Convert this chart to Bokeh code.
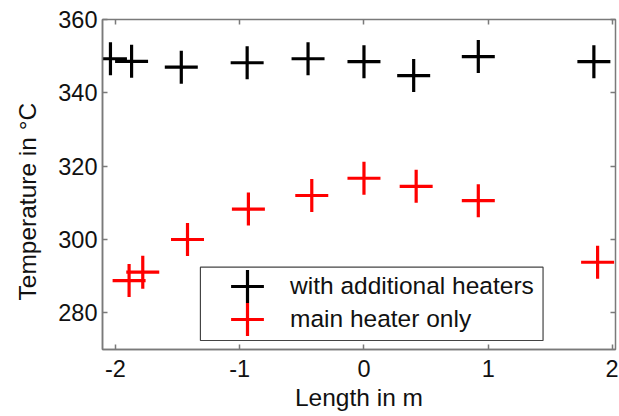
from bokeh.plotting import figure
from bokeh.models import (Range1d, FixedTicker, LinearAxis, Legend, LegendItem,
                          CustomJSTickFormatter, BoxAnnotation, Title)
from bokeh.embed import file_html
from bokeh.resources import INLINE

# Data
length_with = [-2.04, -1.87, -1.47, -0.94, -0.45, 0.00, 0.40, 0.92, 1.85]
temp_with = [349.3, 348.6, 347.0, 348.2, 349.3, 348.5, 344.7, 349.9, 348.5]

length_main = [-1.89, -1.78, -1.42, -0.93, -0.42, 0.00, 0.42, 0.92, 1.88]
temp_main = [288.8, 291.1, 300.0, 308.3, 312.0, 316.7, 314.5, 310.6, 293.8]

x_ticks = [-2, -1, 0, 1, 2]
y_ticks = [280, 300, 320, 340, 360]

label_with = "with additional heaters"
label_main = "main heater only"
x_label = "Length in m"
y_label = "Temperature in °C"

FONT = "Liberation Sans"
AX = "#7a7a7a"
TXT = "#111111"

X0, X1 = -2.104, 2.024
Y0, Y1 = 270, 360

p = figure(width=618, height=416, output_backend="svg", toolbar_location=None,
           x_range=Range1d(X0, X1), y_range=Range1d(Y0, Y1),
           min_border_left=100, min_border_right=3, min_border_top=19, min_border_bottom=67)
p.xgrid.visible = False
p.ygrid.visible = False
p.outline_line_color = AX
p.outline_line_width = 1.5
p.background_fill_color = "white"
p.border_fill_color = "white"

r_with = p.scatter(length_with, temp_with, marker="cross", size=33, line_width=3.2,
                   line_color="#000000")
r_main = p.scatter(length_main, temp_main, marker="cross", size=33, line_width=3.2,
                   line_color="#ff0000")

for ax in (p.xaxis[0], p.yaxis[0]):
    ax.axis_line_color = AX
    ax.axis_line_width = 1.5
    ax.major_tick_line_color = AX
    ax.major_tick_line_width = 1.5
    ax.major_tick_in = 5
    ax.major_tick_out = 0
    ax.minor_tick_line_color = None
    ax.major_label_text_font = FONT
    ax.major_label_text_font_size = "23.5px"
    ax.major_label_text_color = TXT
    ax.axis_label_text_font = FONT
    ax.axis_label_text_font_size = "24.5px"
    ax.axis_label_text_color = TXT
    ax.axis_label_text_font_style = "normal"

p.xaxis.ticker = FixedTicker(ticks=x_ticks)
p.yaxis.ticker = FixedTicker(ticks=y_ticks)
p.xaxis.major_label_overrides = {t: str(t) for t in x_ticks}
p.xaxis.axis_label = x_label
p.xaxis.major_label_standoff = 10
p.yaxis.major_label_standoff = 5
p.xaxis.axis_label_standoff = 4

# y-axis title placed like the reference (slightly below the frame centre)
p.add_layout(Title(text=y_label, align="left", offset=49, vertical_align="top",
                   standoff=26, text_font=FONT, text_font_size="24.5px",
                   text_font_style="normal", text_color=TXT), "left")

blank = CustomJSTickFormatter(code="return ''")
top = LinearAxis(ticker=FixedTicker(ticks=x_ticks), formatter=blank,
                 axis_line_color=None, major_tick_line_color=AX, major_tick_line_width=1.5,
                 major_tick_in=5, major_tick_out=0, minor_tick_line_color=None,
                 major_label_text_font_size="1px")
right = LinearAxis(ticker=FixedTicker(ticks=y_ticks), formatter=blank,
                   axis_line_color=None, major_tick_line_color=AX, major_tick_line_width=1.5,
                   major_tick_in=5, major_tick_out=0, minor_tick_line_color=None,
                   major_label_text_font_size="1px")
p.add_layout(top, "above")
p.add_layout(right, "right")

# legend frame
p.add_layout(BoxAnnotation(left=-1.316, right=1.441, bottom=272.45, top=292.45,
                           fill_color="white", fill_alpha=1.0,
                           line_color="#444444", line_alpha=1.0, line_width=1.2))

common = dict(padding=0, spacing=0, margin=0, glyph_width=82, glyph_height=82,
              label_standoff=2, label_text_font=FONT, label_text_font_size="24.5px",
              label_text_color=TXT, border_line_color=None, background_fill_alpha=0.0)
leg1 = Legend(items=[LegendItem(label=label_with, renderers=[r_with])],
              location=(104, 22.3), **common)
leg2 = Legend(items=[LegendItem(label=label_main, renderers=[r_main])],
              location=(104, -11), **common)
p.add_layout(leg1, "center")
p.add_layout(leg2, "center")

open("out.html", "w").write(file_html(p, INLINE))
